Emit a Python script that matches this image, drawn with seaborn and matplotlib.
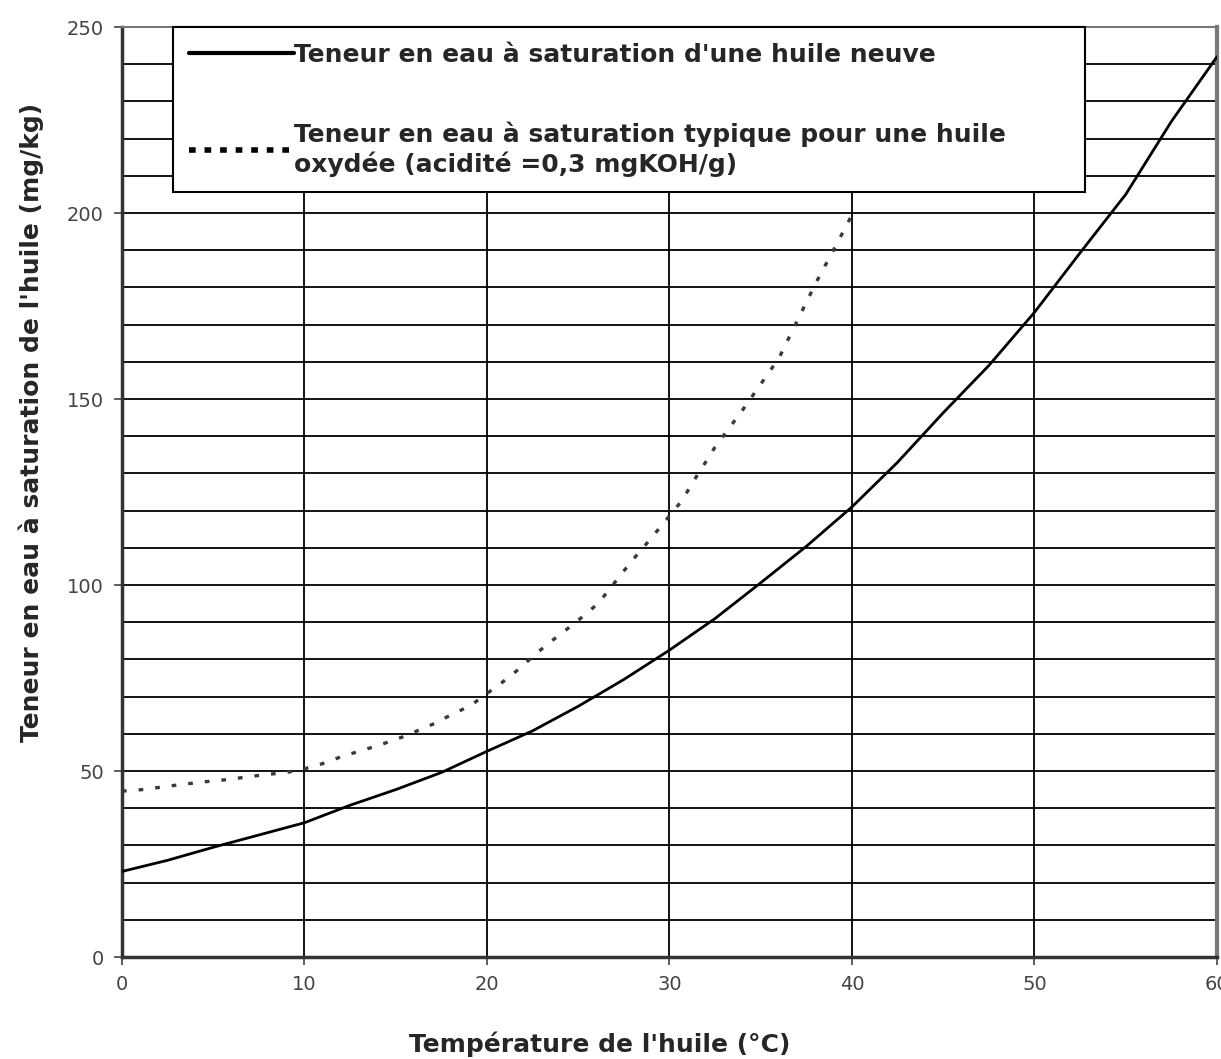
import numpy as np
import pandas as pd
import matplotlib
matplotlib.use("Agg")
import matplotlib.pyplot as plt
from matplotlib.lines import Line2D
import seaborn as sns

# Courbe huile neuve
temp_neuve = [0, 2.5, 5, 7.5, 10, 12.5, 15, 17.5, 20, 22.5, 25, 27.5, 30, 32.5, 35,
              37.5, 40, 42.5, 45, 47.5, 50, 52.5, 55, 57.5, 60]
eau_neuve = [23.0, 26.0, 29.5, 32.8, 36.1, 40.8, 45.0, 49.6, 55.3, 60.8, 67.4, 74.6, 82.5,
             91.0, 100.6, 110.4, 121.0, 133.0, 146.3, 159.0, 173.3, 189.3, 205.0, 224.6, 242.0]

# Courbe huile oxydee
temp_oxydee = [0, 1.1, 2.2, 3.3, 4.5, 5.6, 6.7, 7.8, 9.0, 10.0, 11.0, 12.1, 13.2, 14.3,
               15.4, 17.0, 18.0, 19.1, 20.8, 21.8, 22.6, 23.5, 24.4, 25.3, 26.1, 26.8,
               27.5, 28.2, 29.0, 29.7, 30.7, 31.3, 31.9, 32.5, 34.0, 36.0, 38.0, 39.2, 40.0]
eau_oxydee = [44.6, 45.0, 45.7, 46.4, 47.1, 47.6, 48.3, 49.0, 49.6, 50.6, 52.0, 54.0, 55.6,
              57.3, 59.2, 62.5, 65.0, 67.6, 73.7, 77.6, 81.2, 84.8, 88.2, 91.7, 95.1, 99.4,
              103.8, 108.0, 112.6, 116.8, 122.8, 127.8, 132.4, 137.1, 147.0, 161.0, 181.0,
              192.0, 199.5]

label_neuve = "Teneur en eau à saturation d'une huile neuve"
label_oxydee = "Teneur en eau à saturation typique pour une huile\noxydée (acidité =0,3 mgKOH/g)"
x_ticks = [0, 10, 20, 30, 40, 50, 60]
y_ticks = [0, 50, 100, 150, 200, 250]

df_neuve = pd.DataFrame({"temp": temp_neuve, "eau": eau_neuve})
df_oxydee = pd.DataFrame({"temp": temp_oxydee, "eau": eau_oxydee})

sns.set_style("white")
plt.rcParams["font.family"] = ["DejaVu Sans"]

fig = plt.figure(figsize=(12.21, 10.59), dpi=100)
ax = fig.add_axes([0.0999, 0.0963, 0.8968, 0.8782])

# grille
for v in range(10, 60, 10):
    ax.axvline(v, color="black", lw=1.3, zorder=1)
for h in range(10, 250, 10):
    ax.axhline(h, color="black", lw=1.3, zorder=1)

sns.lineplot(data=df_neuve, x="temp", y="eau", ax=ax, color="black", lw=2.0, zorder=3)
sns.lineplot(data=df_oxydee, x="temp", y="eau", ax=ax, color="#3a3a3a", lw=2.4,
             linestyle=(0, (1.4, 3.6)), zorder=3)

ax.set_xlim(0, 60)
ax.set_ylim(0, 250)
ax.set_xticks(x_ticks)
ax.set_yticks(y_ticks)
ax.tick_params(axis="both", labelsize=14, labelcolor="#444444", length=6,
               width=1.2, color="#444444", direction="out", pad=7)
ax.tick_params(axis="x", bottom=True)
ax.tick_params(axis="y", left=True)

for side in ["left", "bottom"]:
    ax.spines[side].set_color("#333333")
    ax.spines[side].set_linewidth(2.5)
ax.spines["right"].set_color("#777777")
ax.spines["right"].set_linewidth(3)
ax.spines["top"].set_color("#777777")
ax.spines["top"].set_linewidth(1.5)

ax.set_xlabel("Température de l'huile (°C)", fontsize=18, fontweight="bold")
ax.set_ylabel("Teneur en eau à saturation de l'huile (mg/kg)", fontsize=18, fontweight="bold")
ax.xaxis.set_label_coords(0.4365, -0.080)
ax.yaxis.set_label_coords(-0.071, 0.575)

handles = [
    Line2D([], [], color="black", lw=3),
    Line2D([], [], color="black", lw=4, linestyle=(0, (1.2, 1.6))),
]
leg = ax.legend(handles, [label_neuve, label_oxydee], loc="upper left",
                bbox_to_anchor=(0.0466, 0.0, 0.8329, 1.0), mode="expand",
                frameon=True, fancybox=False, edgecolor="black", framealpha=1,
                prop={"weight": "bold", "size": 18}, handlelength=4.2,
                handletextpad=0.0, labelspacing=2.2, borderpad=0.62,
                borderaxespad=0)
leg.get_frame().set_linewidth(1.5)
leg.set_zorder(5)

fig.savefig("out.png", dpi=100)
